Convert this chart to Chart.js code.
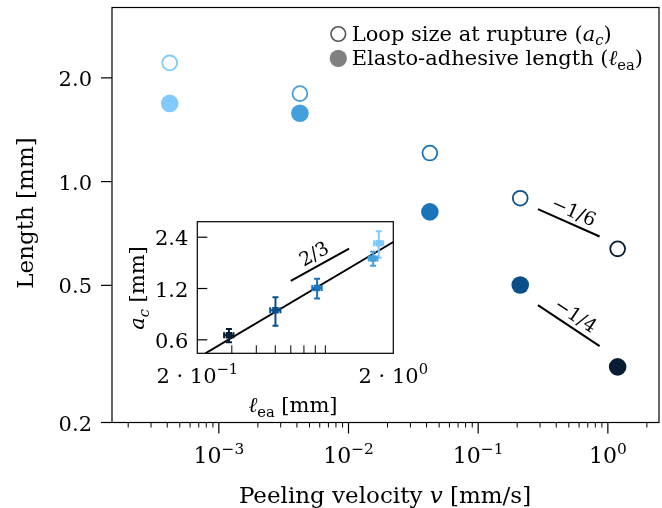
<!DOCTYPE html>
<html>
<head>
<meta charset="utf-8">
<title>Length vs peeling velocity</title>
<script src="https://cdn.jsdelivr.net/npm/chart.js@4.4.0/dist/chart.umd.min.js"></script>
<style>
  html, body { margin: 0; padding: 0; background: #fff; }
  #wrap { position: relative; width: 662px; height: 508px; }
  #main { position: absolute; left: 0; top: 0; }
  #inset { position: absolute; left: 120px; top: 205px; }
</style>
</head>
<body>
<div id="wrap">
  <canvas id="main" width="662" height="508"></canvas>
  <canvas id="inset" width="340" height="215"></canvas>
</div>
<script>
// Measured values, one entry per peeling velocity [mm/s]
const velocity = [4.18e-4, 4.22e-3, 0.0424, 0.211, 1.19];
const loopSize = [2.21, 1.80, 1.21, 0.895, 0.638];        // a_c [mm]
const elastoLength = [1.686, 1.578, 0.817, 0.501, 0.290]; // l_ea [mm]
const loopSizeErr = [0.39, 0.17, 0.16, 0.17, 0.057];
const elastoLengthErr = [0.09, 0.08, 0.045, 0.03, 0.016];
const pointColors = ["#80caff", "#459fdc", "#1a74ba", "#0b4f8a", "#071d33"];

// Power-law guide segments
const guideLoopV = [0.289, 0.864];
const guideLoopL = [0.832, 0.693];
const guideElastoV = [0.289, 0.864];
const guideElastoL = [0.438, 0.333];
const fitInsetL = [0.22, 2.0];
const fitInsetA = [0.5, 2.25];
const guideInsetL = [0.60, 1.19];
const guideInsetA = [1.33, 2.06];

// Axis ticks
const velocityTicks = [1e-3, 1e-2, 1e-1, 1];
const velocityExp = ["−3", "−2", "−1", "0"];
const lengthTicks = [0.2, 0.5, 1.0, 2.0];
const lengthLabels = ["0.2", "0.5", "1.0", "2.0"];
const insetATicks = [0.6, 1.2, 2.4];
const insetALabels = ["0.6", "1.2", "2.4"];
const insetLTicks = [0.2, 2.0];
const insetLExp = ["−1", "0"];

const FONT = '"DejaVu Serif", "Liberation Serif", serif';

function toPoints(xs, ys) {
	return xs.map((x, i) => ({ x: x, y: ys[i] }));
}

// Rich text: parts are [text, style] where style holds i (italic), sup, sub
function partFont(p, size) {
	const s = p[1] && (p[1].sup || p[1].sub) ? size * 0.7 : size;
	return (p[1] && p[1].i ? "italic " : "") + s + "px " + FONT;
}
function richWidth(ctx, parts, size) {
	let w = 0;
	parts.forEach((p) => {
		ctx.font = partFont(p, size);
		w += ctx.measureText(p[0]).width;
	});
	return w;
}
function drawRich(ctx, parts, x, y, size, align) {
	const w = richWidth(ctx, parts, size);
	let cx = align === "center" ? x - w / 2 : align === "right" ? x - w : x;
	ctx.textAlign = "left";
	ctx.textBaseline = "alphabetic";
	parts.forEach((p) => {
		ctx.font = partFont(p, size);
		let dy = 0;
		if (p[1] && p[1].sup) dy = -size * 0.42;
		if (p[1] && p[1].sub) dy = size * 0.22;
		ctx.fillText(p[0], cx, y + dy);
		cx += ctx.measureText(p[0]).width;
	});
}

function minorTicks(min, max) {
	const out = [];
	for (let e = Math.floor(Math.log10(min)); e <= Math.ceil(Math.log10(max)); e++) {
		for (let m = 2; m <= 9; m++) {
			const v = m * Math.pow(10, e);
			if (v > min && v < max) out.push(v);
		}
	}
	return out;
}

function slopeLabel(ctx, xs, ys, sx, sy, text, offset, size) {
	const x1 = sx.getPixelForValue(xs[0]), y1 = sy.getPixelForValue(ys[0]);
	const x2 = sx.getPixelForValue(xs[1]), y2 = sy.getPixelForValue(ys[1]);
	const ang = Math.atan2(y2 - y1, x2 - x1);
	const mx = (x1 + x2) / 2 + Math.sin(ang) * offset;
	const my = (y1 + y2) / 2 - Math.cos(ang) * offset;
	ctx.save();
	ctx.translate(mx, my);
	ctx.rotate(ang);
	ctx.fillStyle = "#000";
	ctx.font = size + "px " + FONT;
	ctx.textAlign = "center";
	ctx.textBaseline = "middle";
	ctx.fillText(text, 0, 0);
	ctx.restore();
}

// Frame, ticks, labels and legend of the main panel
const mainDecor = {
	id: "mainDecor",
	afterDraw(chart) {
		const ctx = chart.ctx;
		const a = chart.chartArea;
		const sx = chart.scales.x, sy = chart.scales.y;
		ctx.save();
		ctx.strokeStyle = "#000";
		ctx.fillStyle = "#000";
		ctx.lineWidth = 1.2;
		ctx.strokeRect(a.left, a.top, a.right - a.left, a.bottom - a.top);

		// y ticks
		lengthTicks.forEach((v, i) => {
			const py = sy.getPixelForValue(v);
			ctx.beginPath();
			ctx.moveTo(a.left - 11, py);
			ctx.lineTo(a.left, py);
			ctx.stroke();
			drawRich(ctx, [[lengthLabels[i]]], a.left - 20, py + 8, 21, "right");
		});

		// x ticks
		ctx.lineWidth = 1;
		minorTicks(sx.min, sx.max).forEach((v) => {
			const px = sx.getPixelForValue(v);
			ctx.beginPath();
			ctx.moveTo(px, a.bottom);
			ctx.lineTo(px, a.bottom + 5);
			ctx.stroke();
		});
		ctx.lineWidth = 1.2;
		velocityTicks.forEach((v, i) => {
			const px = sx.getPixelForValue(v);
			ctx.beginPath();
			ctx.moveTo(px, a.bottom);
			ctx.lineTo(px, a.bottom + 11);
			ctx.stroke();
			drawRich(ctx, [["10"], [velocityExp[i], { sup: true }]], px, 463, 22, "center");
		});

		// axis titles
		drawRich(ctx, [["Peeling velocity "], ["v", { i: true }], [" [mm/s]"]], 385, 503, 23, "center");
		ctx.save();
		ctx.translate(33, 213);
		ctx.rotate(-Math.PI / 2);
		drawRich(ctx, [["Length [mm]"]], 0, 0, 23, "center");
		ctx.restore();

		// legend
		ctx.lineWidth = 1.6;
		ctx.strokeStyle = "#555";
		ctx.beginPath();
		ctx.arc(338.3, 34, 7.3, 0, Math.PI * 2);
		ctx.stroke();
		ctx.fillStyle = "#808080";
		ctx.beginPath();
		ctx.arc(338.3, 58.3, 8.6, 0, Math.PI * 2);
		ctx.fill();
		ctx.fillStyle = "#000";
		drawRich(ctx, [["Loop size at rupture ("], ["a", { i: true }], ["c", { i: true, sub: true }], [")"]], 351.7, 40.5, 21, "left");
		drawRich(ctx, [["Elasto-adhesive length ("], ["ℓ", { i: true }], ["ea", { sub: true }], [")"]], 351.7, 65, 21, "left");

		// slope annotations
		slopeLabel(ctx, guideLoopV, guideLoopL, sx, sy, "−1/6", 11, 19);
		slopeLabel(ctx, guideElastoV, guideElastoL, sx, sy, "−1/4", 11, 19);
		ctx.restore();
	},
};

new Chart(document.getElementById("main"), {
	type: "scatter",
	data: {
		datasets: [
			{
				label: "Loop size at rupture",
				data: toPoints(velocity, loopSize),
				pointRadius: 7.4,
				pointBorderWidth: 1.8,
				pointBackgroundColor: "#fff",
				pointBorderColor: pointColors,
				order: 0,
			},
			{
				label: "Elasto-adhesive length",
				data: toPoints(velocity, elastoLength),
				pointRadius: 8.8,
				pointBorderWidth: 0,
				pointBackgroundColor: pointColors,
				pointBorderColor: pointColors,
				order: 0,
			},
			{
				type: "line",
				data: toPoints(guideLoopV, guideLoopL),
				borderColor: "#000",
				borderWidth: 2,
				pointRadius: 0,
				order: 1,
			},
			{
				type: "line",
				data: toPoints(guideElastoV, guideElastoL),
				borderColor: "#000",
				borderWidth: 2,
				pointRadius: 0,
				order: 1,
			},
		],
	},
	options: {
		responsive: false,
		animation: false,
		events: [],
		layout: { autoPadding: false, padding: { top: 7.5, right: 3, left: 0, bottom: 0 } },
		plugins: { legend: { display: false }, tooltip: { enabled: false } },
		scales: {
			x: {
				type: "logarithmic",
				min: 1.5e-4,
				max: 2.48,
				bounds: "data",
				ticks: { display: false },
				grid: { display: false },
				border: { display: false },
				afterFit: (s) => { s.height = 85.5; },
			},
			y: {
				type: "logarithmic",
				min: 0.2,
				max: 3.2,
				bounds: "data",
				ticks: { display: false },
				grid: { display: false },
				border: { display: false },
				afterFit: (s) => { s.width = 112; },
			},
		},
	},
	plugins: [mainDecor],
});

// Inset: a_c against l_ea with error bars
const insetDecor = {
	id: "insetDecor",
	beforeDraw(chart) {
		const ctx = chart.ctx;
		const a = chart.chartArea;
		ctx.save();
		ctx.fillStyle = "#fff";
		ctx.fillRect(a.left, a.top, a.right - a.left, a.bottom - a.top);
		ctx.restore();
	},
	beforeDatasetDraw(chart, args) {
		if (args.index !== 2) return;
		const ctx = chart.ctx;
		const sx = chart.scales.x, sy = chart.scales.y;
		ctx.save();
		ctx.lineWidth = 2;
		elastoLength.forEach((l, i) => {
			const a = loopSize[i];
			const px = sx.getPixelForValue(l), py = sy.getPixelForValue(a);
			const yTop = sy.getPixelForValue(a + loopSizeErr[i]);
			const yBot = sy.getPixelForValue(a - loopSizeErr[i]);
			const xL = sx.getPixelForValue(l - elastoLengthErr[i]);
			const xR = sx.getPixelForValue(l + elastoLengthErr[i]);
			ctx.strokeStyle = pointColors[i];
			ctx.beginPath();
			ctx.moveTo(px, yTop); ctx.lineTo(px, yBot);
			ctx.moveTo(px - 3, yTop); ctx.lineTo(px + 3, yTop);
			ctx.moveTo(px - 3, yBot); ctx.lineTo(px + 3, yBot);
			ctx.moveTo(xL, py); ctx.lineTo(xR, py);
			ctx.moveTo(xL, py - 3); ctx.lineTo(xL, py + 3);
			ctx.moveTo(xR, py - 3); ctx.lineTo(xR, py + 3);
			ctx.stroke();
		});
		ctx.restore();
	},
	afterDraw(chart) {
		const ctx = chart.ctx;
		const a = chart.chartArea;
		const sx = chart.scales.x, sy = chart.scales.y;
		ctx.save();
		ctx.strokeStyle = "#000";
		ctx.fillStyle = "#000";
		ctx.lineWidth = 1.2;
		ctx.strokeRect(a.left, a.top, a.right - a.left, a.bottom - a.top);

		insetATicks.forEach((v, i) => {
			const py = sy.getPixelForValue(v);
			ctx.beginPath();
			ctx.moveTo(a.left, py);
			ctx.lineTo(a.left + 10, py);
			ctx.stroke();
			drawRich(ctx, [[insetALabels[i]]], a.left - 9, py + 8, 21, "right");
		});
		ctx.lineWidth = 1;
		minorTicks(sx.min, sx.max).forEach((v) => {
			const px = sx.getPixelForValue(v);
			const len = Math.abs(Math.log10(v)) < 1e-9 ? 11 : 8;
			ctx.beginPath();
			ctx.moveTo(px, a.bottom);
			ctx.lineTo(px, a.bottom - len);
			ctx.stroke();
		});
		insetLTicks.forEach((v, i) => {
			const px = sx.getPixelForValue(v);
			drawRich(ctx, [["2 · 10"], [insetLExp[i], { sup: true }]], px, 178, 21, "center");
		});

		drawRich(ctx, [["ℓ", { i: true }], ["ea", { sub: true }], [" [mm]"]], 173, 207, 21, "center");
		ctx.save();
		ctx.translate(24, 83);
		ctx.rotate(-Math.PI / 2);
		drawRich(ctx, [["a", { i: true }], ["c", { i: true, sub: true }], [" [mm]"]], 0, 0, 21, "center");
		ctx.restore();

		slopeLabel(ctx, guideInsetL, guideInsetA, sx, sy, "2/3", 11, 19);
		ctx.restore();
	},
};

new Chart(document.getElementById("inset"), {
	type: "scatter",
	data: {
		datasets: [
			{
				type: "line",
				data: toPoints(fitInsetL, fitInsetA),
				borderColor: "#000",
				borderWidth: 2,
				pointRadius: 0,
				order: 2,
			},
			{
				type: "line",
				data: toPoints(guideInsetL, guideInsetA),
				borderColor: "#000",
				borderWidth: 2,
				pointRadius: 0,
				order: 1,
			},
			{
				data: toPoints(elastoLength, loopSize),
				pointStyle: "rect",
				pointRadius: 4.6,
				pointBorderWidth: 0,
				pointBackgroundColor: pointColors,
				pointBorderColor: pointColors,
				order: 0,
			},
		],
	},
	options: {
		responsive: false,
		animation: false,
		events: [],
		layout: { autoPadding: false, padding: { top: 16.7, right: 66.7, left: 0, bottom: 0 } },
		plugins: { legend: { display: false }, tooltip: { enabled: false } },
		scales: {
			x: {
				type: "logarithmic",
				min: 0.2,
				max: 2.0,
				bounds: "data",
				ticks: { display: false },
				grid: { display: false },
				border: { display: false },
				afterFit: (s) => { s.height = 66.7; },
			},
			y: {
				type: "logarithmic",
				min: 0.5,
				max: 2.96,
				bounds: "data",
				ticks: { display: false },
				grid: { display: false },
				border: { display: false },
				afterFit: (s) => { s.width = 77.3; },
			},
		},
	},
	plugins: [insetDecor],
});
</script>
</body>
</html>
